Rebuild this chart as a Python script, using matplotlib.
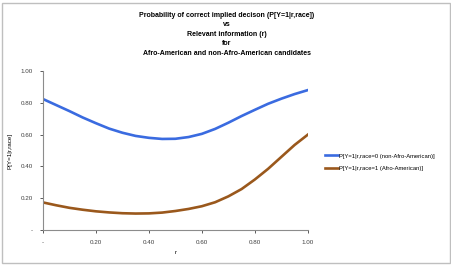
import matplotlib.pyplot as plt
from matplotlib.patches import Rectangle

r = [0.00, 0.05, 0.10, 0.15, 0.20, 0.25, 0.30, 0.35, 0.40, 0.45, 0.50,
     0.55, 0.60, 0.65, 0.70, 0.75, 0.80, 0.85, 0.90, 0.95, 1.00]
p_race0 = [0.824, 0.786, 0.748, 0.708, 0.672, 0.638, 0.612, 0.592, 0.580, 0.573, 0.574,
           0.585, 0.605, 0.636, 0.675, 0.717, 0.756, 0.794, 0.826, 0.855, 0.880]
p_race1 = [0.174, 0.156, 0.140, 0.128, 0.118, 0.111, 0.106, 0.104, 0.105, 0.110, 0.120,
           0.133, 0.150, 0.175, 0.212, 0.258, 0.318, 0.385, 0.460, 0.535, 0.600]
ticks = [0, 0.2, 0.4, 0.6, 0.8, 1.0]
tick_labels = ["-", "0.20", "0.40", "0.60", "0.80", "1.00"]

plt.rcParams['font.family'] = ['Liberation Sans', 'DejaVu Sans']

fig = plt.figure(figsize=(4.52, 2.66), dpi=100)
fig.patches.append(Rectangle((0.005, 0.012), 0.99, 0.978, transform=fig.transFigure,
                             fill=False, edgecolor="#bfbfbf", linewidth=1.0))
ax = fig.add_axes([0.095, 0.135, 0.586, 0.598])

ax.plot(r, p_race0, color="#3a6be0", linewidth=1.9,
        label="P[Y=1|r,race=0 (non-Afro-American)]")
ax.plot(r, p_race1, color="#9a581c", linewidth=1.9,
        label="P[Y=1|r,race=1 (Afro-American)]")

ax.set_xlim(0, 1)
ax.set_ylim(0, 1)
ax.set_xticks(ticks)
ax.set_xticklabels(tick_labels)
ax.set_yticks(ticks)
ax.set_yticklabels(tick_labels)
ax.tick_params(labelsize=4.5, colors="#404040", length=2, width=0.6, pad=5)
for s in ["top", "right"]:
    ax.spines[s].set_visible(False)
for s in ["left", "bottom"]:
    ax.spines[s].set_color("#8c8c8c")
    ax.spines[s].set_linewidth(0.8)

ax.set_xlabel("r", fontsize=4.5, labelpad=4)
ax.set_ylabel("P[Y=1|r,race]", fontsize=4.5, labelpad=6)

fig.text(0.502, 0.955,
         "Probability of correct implied decison (P[Y=1|r,race])\nvs\n"
         "Relevant information (r)\nfor\nAfro-American and non-Afro-American candidates",
         ha="center", va="top", fontsize=5, fontweight="bold", linespacing=1.5)

ax.legend(loc="upper left", bbox_to_anchor=(1.045, 0.515), frameon=False, fontsize=4.2,
          handlelength=2.2, handletextpad=0.2, labelspacing=1.3)

fig.savefig("out.png", dpi=100)
